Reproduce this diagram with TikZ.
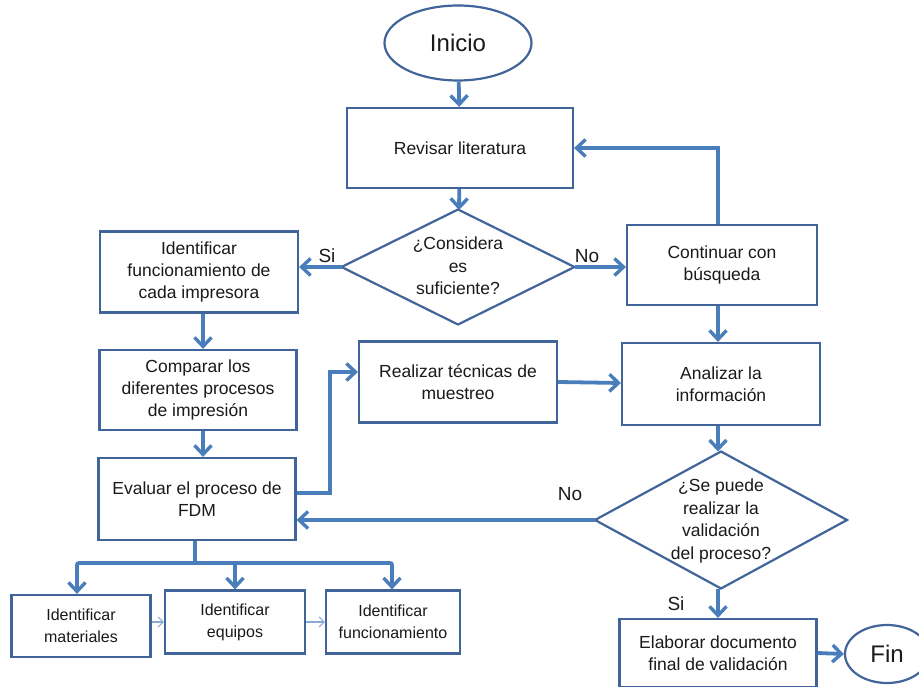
\documentclass[tikz,border=0pt]{standalone}
\usepackage{fontspec}
\setmainfont{Liberation Sans}
\usetikzlibrary{shapes.geometric,arrows.meta}
\definecolor{edgeblue}{HTML}{41649A}
\definecolor{flowblue}{HTML}{4A7EBB}
\definecolor{textgray}{HTML}{1A1A1A}
\tikzset{
  procbox/.style={draw=edgeblue, line width=2.2pt, fill=white, rectangle,
    align=center, text=textgray, font=\fontsize{17.5}{22}\selectfont, inner sep=0pt},
  smallbox/.style={procbox, font=\fontsize{16}{22}\selectfont},
  terminal/.style={draw=edgeblue, line width=2.2pt, fill=white, ellipse,
    text=textgray, font=\fontsize{24}{26}\selectfont, inner sep=0pt},
  decision/.style={draw=edgeblue, line width=2.2pt, fill=white, diamond,
    inner sep=0pt, outer sep=0pt},
  dectext/.style={text=textgray, align=center, font=\fontsize{17.5}{22.5}\selectfont,
    inner sep=0pt},
  flow/.style={draw=flowblue, line width=3.8pt,
    -{Straight Barb[length=9pt,width=17pt,line width=3.4pt]}},
  thinflow/.style={draw=flowblue!65, line width=1.1pt,
    -{Straight Barb[length=5pt,width=10pt,line width=1.1pt]}},
  lbl/.style={text=textgray, font=\fontsize{19}{21}\selectfont, inner sep=0pt}
}
\begin{document}
\begin{tikzpicture}[x=1pt,y=-1pt]
\useasboundingbox (0,0) rectangle (919,687);

% terminals
\node[terminal, minimum width=147pt, minimum height=75pt] (inicio) at (458,43) {Inicio};
\node[terminal, minimum width=84pt, minimum height=58pt] (fin) at (887,654) {Fin};

% process boxes
\node[procbox, minimum width=226pt, minimum height=80pt] (revisar) at (460,148) {Revisar literatura};
\node[procbox, minimum width=198pt, minimum height=81pt] (identfun) at (199,272)
  {Identificar\\funcionamiento de\\cada impresora};
\node[procbox, minimum width=190pt, minimum height=80pt] (continuar) at (722,265)
  {Continuar con\\búsqueda};
\node[procbox, minimum width=197pt, minimum height=80pt] (comparar) at (198,390)
  {Comparar los\\diferentes procesos\\de impresión};
\node[procbox, minimum width=198pt, minimum height=81pt] (realizar) at (458,382)
  {Realizar técnicas de\\muestreo};
\node[procbox, minimum width=198pt, minimum height=82pt] (analizar) at (721,384)
  {Analizar la\\información};
\node[procbox, minimum width=197pt, minimum height=82pt] (evaluar) at (197,499)
  {Evaluar el proceso de\\FDM};
\node[procbox, minimum width=197pt, minimum height=68pt] (elaborar) at (718,653)
  {Elaborar documento\\final de validación};

% decisions: shape and wording as separate nodes so the outline keeps its size
\node[decision, minimum width=233pt, minimum height=115pt] (considera) at (458,267) {};
\node[dectext] (consideratxt) at (458,266) {¿Considera\\es\\suficiente?};
\node[decision, minimum width=252pt, minimum height=137pt] (sepuede) at (721,520) {};
\node[dectext] (sepuedetxt) at (721,521) {¿Se puede\\realizar la\\validación\\del proceso?};

% small boxes at the bottom
\node[smallbox, minimum width=139pt, minimum height=62pt] (materiales) at (81,626)
  {Identificar\\materiales};
\node[smallbox, minimum width=140pt, minimum height=63pt] (equipos) at (235,622)
  {Identificar\\equipos};
\node[smallbox, minimum width=134pt, minimum height=63pt] (funcion) at (393,622)
  {Identificar\\funcionamiento};

% connectors
\draw[flow] (inicio) -- (revisar);
\draw[flow] (revisar) -- (considera);
\draw[flow] (considera.west) -- (identfun.east |- considera.west);
\draw[flow] (considera.east) -- (continuar.west |- considera.east);
\draw[flow] (continuar.north -| 718,0) |- (revisar.east);
\draw[flow] (continuar.south -| 718,0) -- (analizar.north -| 718,0);
\draw[flow] (identfun.south -| 203,0) -- (comparar.north -| 203,0);
\draw[flow] (comparar.south -| 203,0) -- (evaluar.north -| 203,0);
\coordinate (bendA) at (330,493);
\draw[flow] (evaluar.east |- bendA) -- (bendA) |- (realizar.west |- 0,372);
\draw[flow] (realizar.east |- 0,382) -- (analizar.west |- 0,383);
\draw[flow] (analizar.south -| 718,0) -- (sepuede.north -| 718,0);
\draw[flow] (sepuede.west) -- (evaluar.east |- sepuede.west);
\draw[flow] (sepuede.south -| 718,0) -- (elaborar.north -| 718,0);
\draw[flow] (elaborar.east) -- (fin.west);

% branch to the three small boxes
\coordinate (split) at (195,563);
\draw[draw=flowblue, line width=3.8pt] (evaluar.south -| split) -- (split);
\draw[flow, rounded corners=2pt] (split) -| (materiales.north -| 77,0);
\draw[flow] (split) -| (equipos.north);
\draw[flow, rounded corners=2pt] (split) -| (funcion.north -| 392,0);

\draw[thinflow] (materiales.east |- 0,622) -- (equipos.west |- 0,622);
\draw[thinflow] (equipos.east) -- (funcion.west);

% branch labels
\node[lbl] (siA) at (327,256) {Si};
\node[lbl] (noA) at (587,256) {No};
\node[lbl] (noB) at (570,494) {No};
\node[lbl] (siB) at (676,604) {Si};
\end{tikzpicture}
\end{document}
